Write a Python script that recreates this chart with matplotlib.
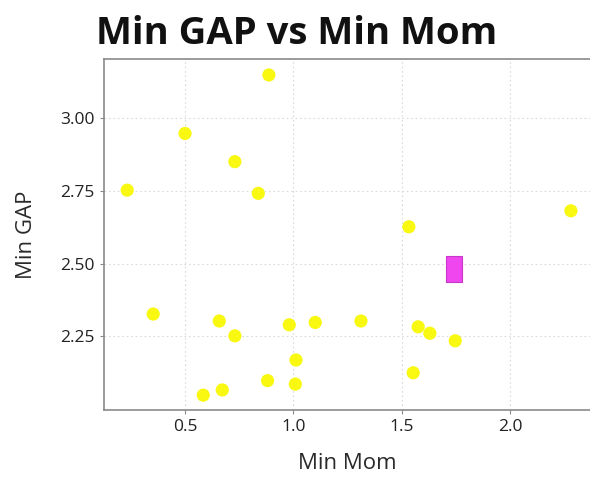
import matplotlib
matplotlib.use("Agg")
import matplotlib.pyplot as plt

# Data
min_mom = [0.233, 0.500, 0.730, 0.838, 0.887, 0.353, 0.658, 0.730, 0.584, 0.672,
           0.881, 0.981, 1.012, 1.009, 1.101, 1.312, 1.533, 1.553, 1.576, 1.630,
           1.747, 2.281]
min_gap = [2.753, 2.948, 2.851, 2.742, 3.149, 2.327, 2.303, 2.252, 2.048, 2.066,
           2.098, 2.290, 2.169, 2.086, 2.298, 2.303, 2.627, 2.125, 2.283, 2.261,
           2.235, 2.682]
highlight_mom = [1.740]
highlight_gap = [2.481]

x_ticks = [0.5, 1.0, 1.5, 2.0]
y_ticks = [2.25, 2.50, 2.75, 3.00]

plt.rcParams['font.family'] = ['Open Sans', 'DejaVu Sans']

fig = plt.figure(figsize=(5.9, 4.78), dpi=100)
ax = fig.add_axes([104/590, 1-410/478, 1-104/590, (410-59)/478])

ax.scatter(min_mom, min_gap, s=90, color='#f8f810', edgecolors='none', zorder=3)
rect = [(-0.315, -0.5), (0.315, -0.5), (0.315, 0.5), (-0.315, 0.5), (-0.315, -0.5)]
ax.scatter(highlight_mom, highlight_gap, s=370, marker=rect, color='#f046f0',
           edgecolors='#c838c8', linewidths=0.8, zorder=4)

ax.set_xlim(0.126, 2.369)
ax.set_ylim(1.997, 3.204)
ax.set_xticks(x_ticks)
ax.set_xticklabels([f"{v:.1f}" for v in x_ticks])
ax.set_yticks(y_ticks)
ax.set_yticklabels([f"{v:.2f}" for v in y_ticks])

ax.grid(True, linestyle=(0, (1.5, 2.5)), color='#dadada', linewidth=0.8)
ax.set_axisbelow(True)
for side in ['left', 'bottom', 'top']:
    ax.spines[side].set_color('#8a8a8a')
    ax.spines[side].set_linewidth(1.2)
ax.spines['right'].set_visible(False)
ax.tick_params(axis='both', colors='#8a8a8a', labelcolor='#222222', labelsize=12.5,
               length=3, width=0.8)

ax.set_xlabel("Min Mom", fontsize=16, color='#2a2a2a', labelpad=13)
ax.set_ylabel("Min GAP", fontsize=16, color='#2a2a2a', labelpad=17)

fig.text(297/590, 1-34/478, "Min GAP vs Min Mom", fontsize=27.5, fontweight='bold',
         ha='center', va='center', color='#111111')

fig.savefig("out.png", dpi=100)
